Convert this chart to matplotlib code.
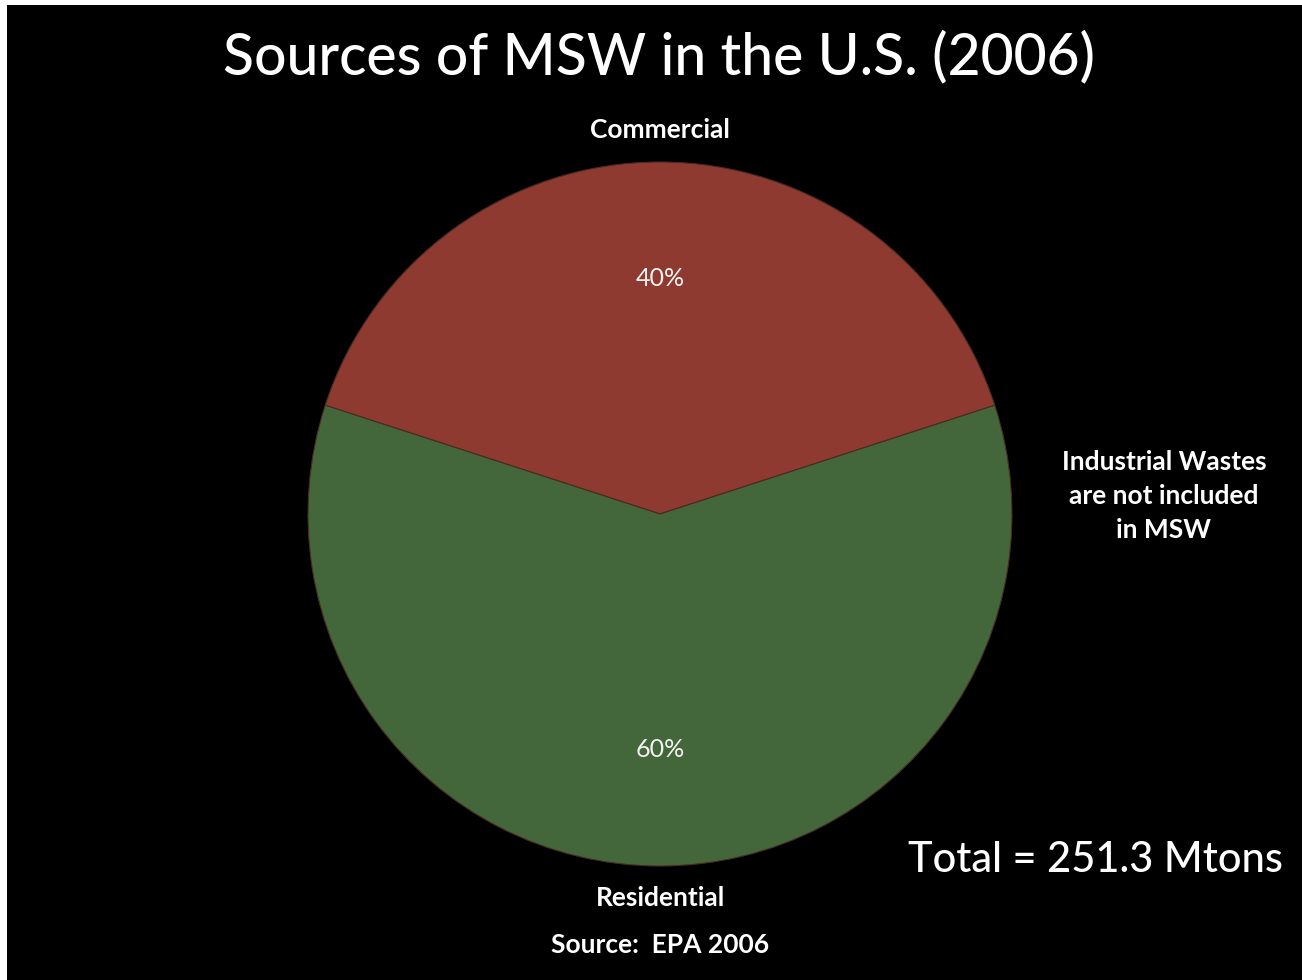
import matplotlib.pyplot as plt
from matplotlib.patches import Rectangle

# MSW sources, 2006
sources = ["Commercial", "Residential"]
shares = [40, 60]
colors = ["#8e3a30", "#43673a"]
total_mtons = 251.3

plt.rcParams['font.family'] = ['Lato', 'DejaVu Sans']

fig = plt.figure(figsize=(13.02, 9.8), dpi=100, facecolor="black")

# thin white margin along the left and top edges
fig.patches.append(Rectangle((0, 0), 7 / 1302, 1, transform=fig.transFigure,
                             facecolor="white", edgecolor="none", zorder=0))
fig.patches.append(Rectangle((0, 1 - 5 / 980), 1, 5 / 980, transform=fig.transFigure,
                             facecolor="white", edgecolor="none", zorder=0))

ax = fig.add_axes([308 / 1302, 114 / 980, 704 / 1302, 704 / 980])
ax.set_facecolor("black")

wedges, texts, pcts = ax.pie(
    shares, labels=sources, colors=colors, startangle=18, counterclock=True,
    autopct="%d%%", pctdistance=0.67, labeldistance=1.09,
    wedgeprops=dict(edgecolor="#4a2a22", linewidth=0.8),
    textprops=dict(color="white"),
)
for t in texts:
    t.set_ha("center")
    t.set_fontsize(19)
    t.set_fontweight("bold")
for p in pcts:
    p.set_fontsize(18)
    p.set_color("#f2f2f2")

ax.set_xlim(-1, 1)
ax.set_ylim(-1, 1)
ax.set_aspect("equal")
ax.axis("off")

fig.text(659 / 1302, 1 - 57 / 980, "Sources of MSW in the U.S. (2006)", color="white",
         fontsize=41, fontweight="medium", ha="center", va="center")
fig.text(1164 / 1302, 1 - 496 / 980, "Industrial Wastes\nare not included\nin MSW",
         color="white", fontsize=19, fontweight="bold", ha="center", va="center",
         linespacing=1.5)
fig.text(1095 / 1302, 1 - 860 / 980, f"Total = {total_mtons} Mtons", color="white",
         fontsize=30, fontweight="medium", ha="center", va="center")
fig.text(660 / 1302, 1 - 945 / 980, "Source:  EPA 2006", color="white",
         fontsize=19, fontweight="bold", ha="center", va="center")

fig.savefig("out.png", dpi=100, facecolor=fig.get_facecolor())
